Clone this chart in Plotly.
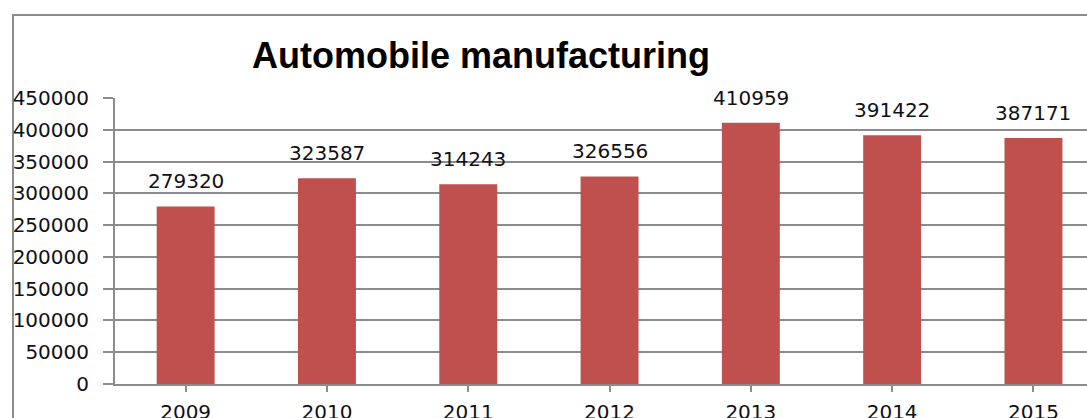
import plotly.graph_objects as go

years = ["2009", "2010", "2011", "2012", "2013", "2014", "2015"]
production = [279320, 323587, 314243, 326556, 410959, 391422, 387171]
y_ticks = [0, 50000, 100000, 150000, 200000, 250000, 300000, 350000, 400000, 450000]

W, H = 1087, 418
L, T, B = 115, 98, 34
bar_color = "#C0504D"
grid_color = "#8C8C8C"
label_font = dict(family="DejaVu Sans", size=20, color="#101018")

fig = go.Figure()
fig.add_trace(go.Bar(
    x=list(range(len(years))), y=production, width=0.41,
    marker=dict(color=bar_color, line=dict(width=0)),
    hoverinfo="skip",
))

for i, v in enumerate(production):
    fig.add_annotation(x=i, y=v, text=str(v), showarrow=False,
                       xanchor="center", yanchor="bottom", yshift=11,
                       font=label_font)

plot_w = W - L
band = 141.3
x_hi = -0.5 + plot_w / band

# outer chart frame (cropped)
fig.add_shape(type="rect", xref="paper", yref="paper",
              x0=(13 - L) / plot_w, x1=1.2,
              y0=-0.5, y1=1 + (T - 15) / (H - T - B),
              line=dict(color=grid_color, width=2), fillcolor="rgba(0,0,0,0)",
              layer="below")

fig.update_layout(
    width=W, height=H,
    margin=dict(l=L, r=0, t=T, b=B, pad=0, autoexpand=False),
    paper_bgcolor="white", plot_bgcolor="white",
    showlegend=False,
    title=dict(text="<b>Automobile manufacturing</b>",
               font=dict(family="Liberation Sans", size=36, color="black"),
               x=481 / W, xanchor="center", xref="container",
               y=1 - 55 / H, yanchor="middle", yref="container",
               automargin=False),
    xaxis=dict(
        range=[-0.5, x_hi], automargin=False,
        tickmode="array", tickvals=list(range(len(years))), ticktext=years,
        ticks="outside", ticklen=6, tickwidth=2, tickcolor=grid_color,
        tickson="boundaries",
        showline=True, linecolor=grid_color, linewidth=2,
        showgrid=False, zeroline=False,
        ticklabelstandoff=3,
        tickfont=label_font,
    ),
    yaxis=dict(
        range=[0, 450000], automargin=False,
        tickmode="array", tickvals=y_ticks, ticktext=[str(t) for t in y_ticks],
        ticks="outside", ticklen=10, tickwidth=2, tickcolor=grid_color,
        showline=True, linecolor=grid_color, linewidth=2,
        showgrid=True, gridcolor=grid_color, gridwidth=2,
        zeroline=False,
        ticklabelstandoff=10,
        tickfont=label_font,
    ),
    bargap=0.59,
)

fig.write_html("out.html")
